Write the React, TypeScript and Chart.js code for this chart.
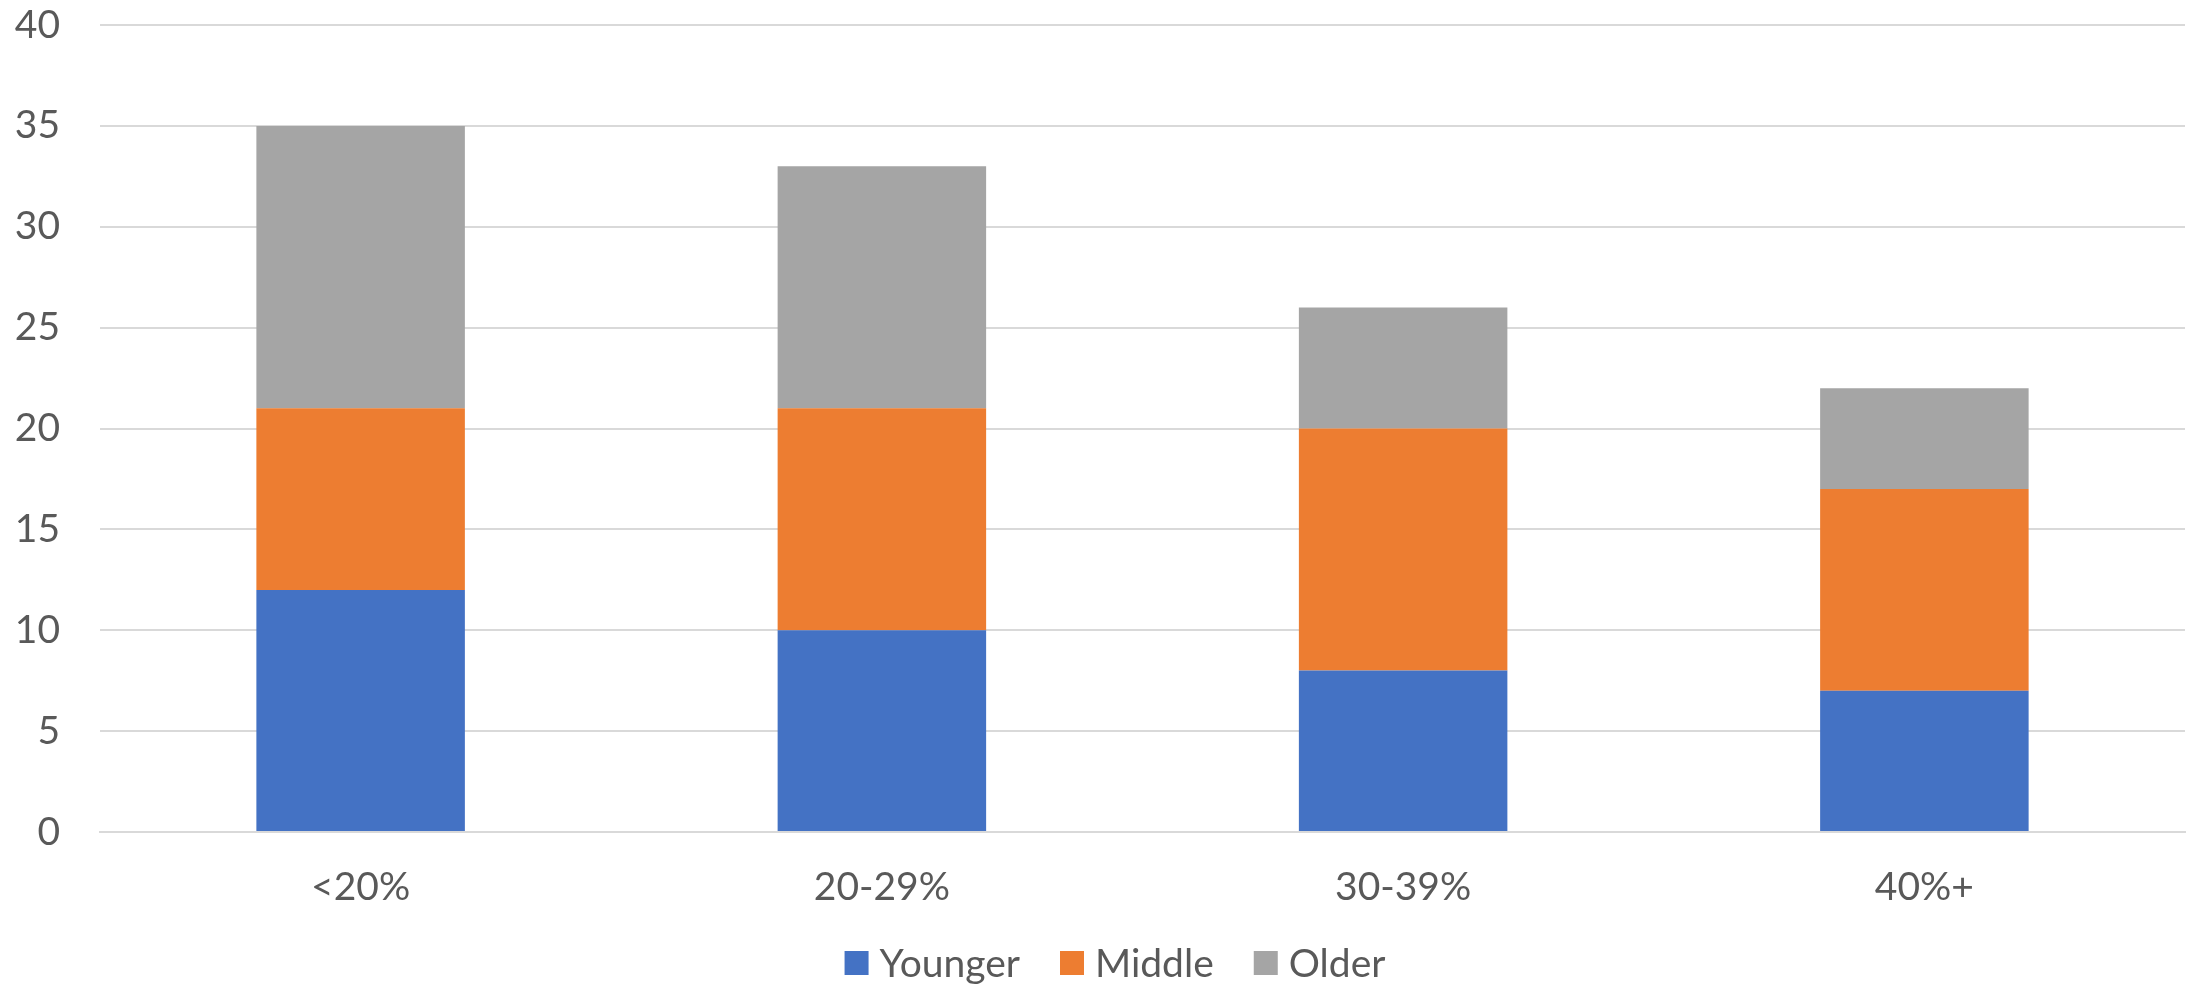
import React, { useEffect, useRef } from "react";
import { Chart, registerables } from "chart.js";

Chart.register(...registerables);

// Categories and stacked series values
const categories = ["<20%", "20-29%", "30-39%", "40%+"];
const younger = [12, 10, 8, 7];
const middle = [9, 11, 12, 10];
const older = [14, 12, 6, 5];

const seriesNames = ["Younger", "Middle", "Older"];
const seriesColors = ["#4472C4", "#ED7D31", "#A5A5A5"];

const yTicks = { min: 0, max: 40, step: 5 };

const FONT = "Lato, 'Open Sans', sans-serif";
const TEXT = "#595959";
const GRID = "#D9D9D9";

// Legend row drawn beneath the x-axis labels
const legendRow = {
  id: "legendRow",
  afterDraw(chart: any) {
    const ctx = chart.ctx as CanvasRenderingContext2D;
    const box = 24;
    const textGap = 11;
    const itemGap = 40;
    const cy = 963;
    const centerX = 1115;
    ctx.save();
    ctx.font = `39px ${FONT}`;
    ctx.textBaseline = "middle";
    ctx.textAlign = "left";
    const items = chart.data.datasets.map((ds: any) => ({
      label: ds.label as string,
      color: ds.backgroundColor as string,
      w: ctx.measureText(ds.label).width,
    }));
    const total =
      items.reduce((s: number, it: any) => s + box + textGap + it.w, 0) +
      itemGap * (items.length - 1);
    let x = centerX - total / 2;
    for (const it of items) {
      ctx.fillStyle = it.color;
      ctx.fillRect(x, cy - box / 2, box, box);
      x += box + textGap;
      ctx.fillStyle = TEXT;
      ctx.fillText(it.label, x, cy + 1);
      x += it.w + itemGap;
    }
    ctx.restore();
  },
};

export default function App() {
  const ref = useRef<HTMLCanvasElement | null>(null);

  useEffect(() => {
    document.body.style.margin = "0";
    const canvas = ref.current;
    if (!canvas) return;
    const values = [younger, middle, older];
    const chart = new Chart(canvas, {
      type: "bar",
      data: {
        labels: categories,
        datasets: seriesNames.map((name, i) => ({
          label: name,
          data: values[i],
          backgroundColor: seriesColors[i],
          borderWidth: 0,
          categoryPercentage: 1,
          barPercentage: 0.4,
        })),
      },
      options: {
        responsive: false,
        animation: false,
        maintainAspectRatio: false,
        layout: { padding: { top: 25, right: 11, left: 0, bottom: 73 } },
        scales: {
          x: {
            stacked: true,
            grid: { display: false, drawTicks: false },
            border: { display: true, color: GRID, width: 2 },
            ticks: {
              color: TEXT,
              font: { family: FONT, size: 39 },
              padding: 32,
              maxRotation: 0,
            },
            afterFit: (scale: any) => {
              scale.height = 80;
              scale.paddingLeft = 0;
              scale.paddingRight = 0;
            },
          },
          y: {
            stacked: true,
            min: yTicks.min,
            max: yTicks.max,
            grid: { color: GRID, lineWidth: 2, drawTicks: false },
            border: { display: false },
            ticks: {
              stepSize: yTicks.step,
              color: TEXT,
              font: { family: FONT, size: 39 },
              padding: 40,
            },
            afterFit: (scale: any) => {
              scale.width = 100;
              scale.paddingTop = 0;
              scale.paddingBottom = 0;
            },
          },
        },
        plugins: {
          legend: { display: false },
          tooltip: { enabled: false },
        },
      },
      plugins: [legendRow],
    });
    return () => chart.destroy();
  }, []);

  return (
    <div style={{ width: 2196, height: 985, background: "#fff" }}>
      <canvas ref={ref} width={2196} height={985} style={{ display: "block" }} />
    </div>
  );
}
